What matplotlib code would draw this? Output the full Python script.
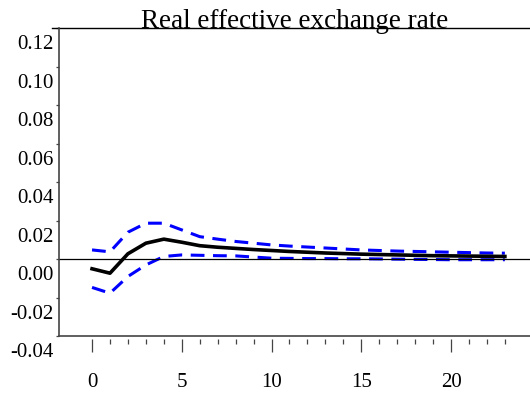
import matplotlib
matplotlib.use("Agg")
import matplotlib.pyplot as plt
import matplotlib.transforms as mtransforms

plt.rcParams['font.family'] = ['Liberation Serif', 'DejaVu Serif']

# Impulse response of the real effective exchange rate, 24 periods
periods = list(range(24))
response = [-0.0050, -0.0073, 0.0028, 0.0083, 0.0104, 0.0088, 0.0070, 0.0062,
            0.0056, 0.0050, 0.0045, 0.0040, 0.0036, 0.0032, 0.0029, 0.0026,
            0.0024, 0.0022, 0.0020, 0.0018, 0.0017, 0.0016, 0.0015, 0.0014]
upper = [0.0048, 0.0038, 0.0140, 0.0187, 0.0187, 0.0152, 0.0117, 0.0104,
         0.0092, 0.0083, 0.0074, 0.0068, 0.0063, 0.0058, 0.0053, 0.0048,
         0.0045, 0.0042, 0.0040, 0.0038, 0.0036, 0.0034, 0.0032, 0.0031]
lower = [-0.0147, -0.0177, -0.0090, -0.0030, 0.0014, 0.0022, 0.0020, 0.0018,
         0.0017, 0.0011, 0.0005, 0.0004, 0.0003, 0.0003, 0.0002, 0.0002,
         0.0001, 0.0000, -0.0001, -0.0002, -0.0003, -0.0003, -0.0003, -0.0003]

yticks = [0.12, 0.10, 0.08, 0.06, 0.04, 0.02, 0.00, -0.02, -0.04]
ytick_labels = ['0.12', '0.10', '0.08', '0.06', '0.04', '0.02', '0.00', '-0.02', '-0.04']
xticks = [0, 5, 10, 15, 20]

fig = plt.figure(figsize=(5.3, 3.94), dpi=100)
ax = fig.add_axes([0.111, 0.147, 0.889, 0.781])

ax.plot(periods, upper, color='#0000ff', lw=2.2, dashes=(4.5, 2.8))
ax.plot(periods, lower, color='#0000ff', lw=2.2, dashes=(4.5, 2.8))
ax.plot(periods, response, color='black', lw=2.6)
ax.axhline(0, color='black', lw=0.9)

ax.set_xlim(-1.85, 24.4)
ax.set_ylim(-0.04, 0.12)

frame = '#444444'
ax.spines['right'].set_visible(False)
ax.spines['top'].set_visible(False)
ax.spines['bottom'].set_visible(False)
ax.spines['left'].set_color(frame)
ax.spines['left'].set_linewidth(1.2)
ax.spines['bottom'].set_position(('outward', 2))
ax.axhline(-0.04, color=frame, lw=1.2, clip_on=False)
ax.plot([-0.015, 1], [1, 1], transform=ax.transAxes, color='black', lw=1.0, clip_on=False)

ax.set_xticks(xticks)
ax.set_xticks([t for t in periods if t not in xticks], minor=True)
ax.tick_params(axis='x', which='major', length=9.5, width=0.9, color=frame,
               pad=15, labelsize=15)
ax.tick_params(axis='x', which='minor', length=3.6, width=0.9, color=frame)

ax.set_yticks(yticks)
ax.set_yticklabels(ytick_labels)
ax.tick_params(axis='y', length=2, width=0.9, color=frame, pad=2, labelsize=15)
shift = mtransforms.ScaledTranslation(0, -14 / 100, fig.dpi_scale_trans)
for lab in ax.get_yticklabels():
    lab.set_transform(lab.get_transform() + shift)

# title sits right on the top rule
ax.set_title('Real effective exchange rate', fontsize=19.5, y=1.0, pad=0)

fig.savefig('out.png', dpi=100)
